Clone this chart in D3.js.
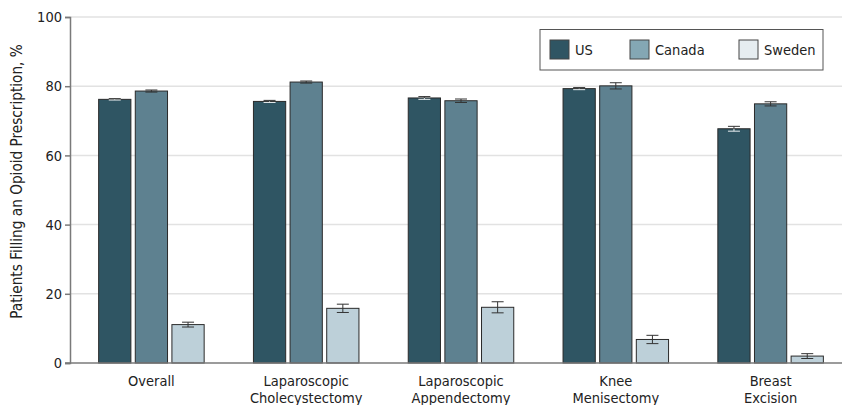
<!DOCTYPE html>
<html>
<head>
<meta charset="utf-8">
<script src="https://cdn.jsdelivr.net/npm/d3@7"></script>
<style>
  body { margin: 0; background: #fff; }
  svg text { font-family: "Liberation Sans Narrow", "DejaVu Sans Condensed", "Noto Sans", sans-serif; fill: #222; }
</style>
</head>
<body>
<div id="chart"></div>
<script>
// data
var procedures = [["Overall"], ["Laparoscopic", "Cholecystectomy"], ["Laparoscopic", "Appendectomy"], ["Knee", "Menisectomy"], ["Breast", "Excision"]];
var countries = ["US", "Canada", "Sweden"];
var usValues = [76.2, 75.6, 76.6, 79.3, 67.7];
var usErr = [0.2, 0.3, 0.4, 0.3, 0.7];
var canadaValues = [78.6, 81.2, 75.8, 80.1, 74.9];
var canadaErr = [0.3, 0.3, 0.5, 0.9, 0.6];
var swedenValues = [11.1, 15.8, 16.1, 6.8, 2.0];
var swedenErr = [0.7, 1.2, 1.6, 1.2, 0.7];
var yTicks = [0, 20, 40, 60, 80, 100];

var barColor = { US: "#2f5563", Canada: "#5e8190", Sweden: "#bdd0d9" };
var legendColor = { US: "#2f5563", Canada: "#84a7b4", Sweden: "#e6edf0" };

var width = 842, height = 405;

var svg = d3.select("#chart").append("svg")
	.attr("width", width)
	.attr("height", height);

// build rows for the bars
var rows = [];
procedures.forEach(function (p, i) {
	rows.push({ proc: i, country: "US", value: usValues[i], err: usErr[i] });
	rows.push({ proc: i, country: "Canada", value: canadaValues[i], err: canadaErr[i] });
	rows.push({ proc: i, country: "Sweden", value: swedenValues[i], err: swedenErr[i] });
});

var y = d3.scaleLinear().domain([0, 100]).range([363, 17]);

var x0 = d3.scaleBand()
	.domain(procedures.map(function (d, i) { return i; }))
	.range([74, 848])
	.paddingInner(0.29)
	.paddingOuter(0.145);

var x1 = d3.scaleBand()
	.domain(countries)
	.range([0, x0.bandwidth()])
	.paddingInner(0.12)
	.paddingOuter(0.06);

// gridlines
svg.append("g")
	.selectAll("line")
	.data(yTicks.filter(function (d) { return d > 0; }))
	.enter().append("line")
	.attr("x1", 70).attr("x2", width)
	.attr("y1", function (d) { return y(d); })
	.attr("y2", function (d) { return y(d); })
	.style("stroke", "#e2e2e2")
	.style("stroke-width", 1.5);

// bars
var bars = svg.append("g").selectAll("g")
	.data(rows)
	.enter().append("g");

bars.append("rect")
	.attr("x", function (d) { return x0(d.proc) + x1(d.country); })
	.attr("y", function (d) { return y(d.value); })
	.attr("width", x1.bandwidth())
	.attr("height", function (d) { return y(0) - y(d.value); })
	.style("fill", function (d) { return barColor[d.country]; })
	.style("stroke", "#2a2a2a")
	.style("stroke-width", 1);

// error bars (lower half shows light on the dark US bars)
bars.each(function (d) {
	var g = d3.select(this);
	var cx = x0(d.proc) + x1(d.country) + x1.bandwidth() / 2;
	var hi = y(d.value + d.err), lo = y(d.value - d.err), top = y(d.value);
	var inside = d.country === "US" ? "#e8eef0" : "#333";
	g.append("line").attr("x1", cx).attr("x2", cx).attr("y1", hi).attr("y2", top)
		.style("stroke", "#333");
	g.append("line").attr("x1", cx).attr("x2", cx).attr("y1", top).attr("y2", lo)
		.style("stroke", inside);
	g.append("line").attr("x1", cx - 6).attr("x2", cx + 6).attr("y1", hi).attr("y2", hi)
		.style("stroke", "#333");
	g.append("line").attr("x1", cx - 6).attr("x2", cx + 6).attr("y1", lo).attr("y2", lo)
		.style("stroke", inside);
});

// y axis
var yAxis = svg.append("g")
	.attr("transform", "translate(70,0)")
	.call(d3.axisLeft(y).tickValues(yTicks).tickSize(5).tickPadding(3));
yAxis.select(".domain").style("stroke", "#7a7a7a").style("stroke-width", 1.5);
yAxis.selectAll(".tick line").style("stroke", "#7a7a7a").style("stroke-width", 1.5);
yAxis.selectAll("text").style("font-size", "14.5px").style("fill", "#222");

// x axis line
svg.append("line")
	.attr("x1", 65).attr("x2", width)
	.attr("y1", y(0)).attr("y2", y(0))
	.style("stroke", "#7a7a7a").style("stroke-width", 1.5);

// x labels
var xl = svg.append("g").selectAll("text")
	.data(procedures)
	.enter().append("text")
	.attr("text-anchor", "middle")
	.attr("x", function (d, i) { return x0(i) + x0.bandwidth() / 2; })
	.attr("y", 386)
	.style("font-size", "14.5px");
xl.selectAll("tspan")
	.data(function (d) { return d; })
	.enter().append("tspan")
	.attr("x", function () { return d3.select(this.parentNode).attr("x"); })
	.attr("dy", function (d, i) { return i ? 17 : 0; })
	.text(function (d) { return d; });

// y title
svg.append("text")
	.attr("transform", "translate(22," + ((28 + 335) / 2) + ") rotate(-90)")
	.attr("text-anchor", "middle")
	.style("font-size", "15.2px")
	.text("Patients Filling an Opioid Prescription, %");

// legend
var legend = svg.append("g");
legend.append("rect")
	.attr("x", 540).attr("y", 29.5)
	.attr("width", 283).attr("height", 40.5)
	.style("fill", "#fff")
	.style("stroke", "#555")
	.style("stroke-width", 1);
var legendX = [550, 630, 739];
countries.forEach(function (c, i) {
	legend.append("rect")
		.attr("x", legendX[i]).attr("y", 40)
		.attr("width", 19).attr("height", 19)
		.style("fill", legendColor[c])
		.style("stroke", "#444");
	legend.append("text")
		.attr("x", legendX[i] + 25).attr("y", 55)
		.style("font-size", "14.5px")
		.text(c);
});
</script>
</body>
</html>
